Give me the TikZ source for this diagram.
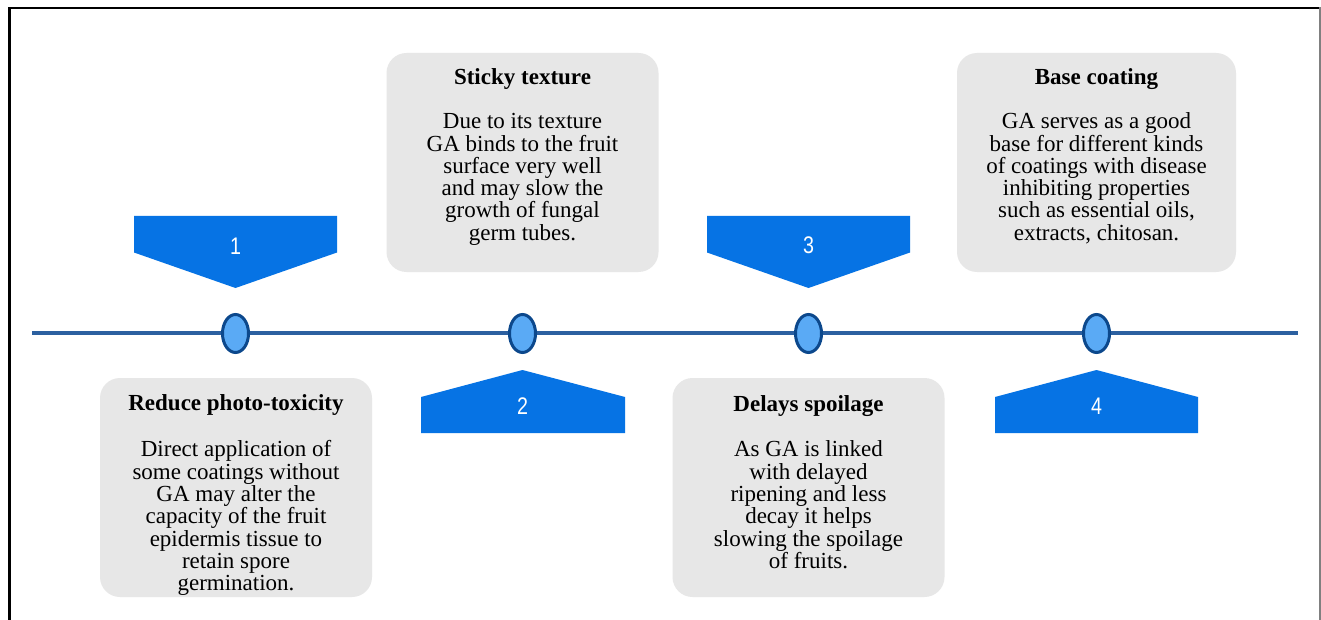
\documentclass[tikz,border=0pt]{standalone}
\usepackage{fontspec}
\setmainfont{Liberation Serif}
\newfontfamily\numfont{Liberation Sans}
\usetikzlibrary{calc,shapes.geometric}
\definecolor{lineblue}{RGB}{44,96,160}
\definecolor{dotfill}{RGB}{90,170,245}
\definecolor{dotedge}{RGB}{12,72,140}
\definecolor{tagblue}{RGB}{6,115,228}
\definecolor{boxgray}{RGB}{231,231,231}
\begin{document}
\begin{tikzpicture}[x=1pt,y=-1pt,
  gbox/.style={fill=boxgray,rounded corners=20pt,inner sep=0pt,minimum height=219pt,minimum width=#1},
  ttl/.style={font=\bfseries\fontsize{23}{22.3}\selectfont,inner sep=0pt,anchor=base},
  bodytxt/.style={font=\fontsize{23}{22.3}\selectfont,align=center,inner sep=0pt,anchor=base},
  tline/.style={draw=lineblue,line width=3.8pt},
  dot/.style={ellipse,draw=dotedge,fill=dotfill,line width=3pt,minimum width=26pt,minimum height=38pt,inner sep=0pt},
  tag/.style={fill=tagblue},
  num/.style={font=\numfont\fontsize{24}{24}\selectfont,text=white,inner sep=0pt,xscale=0.82}]
\useasboundingbox (0,0) rectangle (1321,620);
\fill[white] (0,0) rectangle (1321,620);
% frame
\draw[line width=2.5pt] (9.5,620) -- (9.5,7.8) -- (1319,7.8);
\draw[gray,line width=1.5pt] (1320,7) -- (1320,620);
% boxes
\node[gbox=272pt] (b1) at (236,487.5) {};
\node[gbox=272pt] (b2) at (522.5,162.5) {};
\node[gbox=272pt] (b3) at (808.5,487.5) {};
\node[gbox=279pt] (b4) at (1096.5,162.5) {};
% titles
\node[ttl] (t1) at ($(b1.north)+(0,33)$) {Reduce photo-toxicity};
\node[ttl] (t2) at ($(b2.north)+(0,32)$) {Sticky texture};
\node[ttl] (t3) at ($(b3.north)+(0,34)$) {Delays spoilage};
\node[ttl] (t4) at ($(b4.north)+(0,32)$) {Base coating};
% bodies (anchor = baseline of the last line)
\node[bodytxt] (d1) at ($(t1.base)+(0,179.8)$) {Direct application of\\some coatings without\\GA may alter the\\capacity of the fruit\\epidermis tissue to\\retain spore\\germination.};
\node[bodytxt] (d2) at ($(t2.base)+(0,155.5)$) {Due to its texture\\GA binds to the fruit\\surface very well\\and may slow the\\growth of fungal\\germ tubes.};
\node[bodytxt] (d3) at ($(t3.base)+(0,156.5)$) {As GA is linked\\with delayed\\ripening and less\\decay it helps\\slowing the spoilage\\of fruits.};
\node[bodytxt] (d4) at ($(t4.base)+(0,155.5)$) {GA serves as a good\\base for different kinds\\of coatings with disease\\inhibiting properties\\such as essential oils,\\extracts, chitosan.};
% tags
\fill[tag] (134,216) -- (337,216) -- (337,252.5) -- (235.5,288) -- (134,252.5) -- cycle;
\fill[tag] (707,216) -- (910,216) -- (910,252.5) -- (808.5,288) -- (707,252.5) -- cycle;
\fill[tag] (421,433) -- (625,433) -- (625,397) -- (522.5,370) -- (421,397) -- cycle;
\fill[tag] (995,433) -- (1198,433) -- (1198,397) -- (1096.5,370) -- (995,397) -- cycle;
\node[num] (n1) at (235.5,246) {1};
\node[num] (n2) at (522.5,406) {2};
\node[num] (n3) at (808.5,245) {3};
\node[num] (n4) at (1096.5,406) {4};
% timeline
\coordinate (tl) at (32,333);
\coordinate (tr) at (1298,333);
\draw[tline] (tl) -- (tr);
\node[dot] (c1) at (235.5,333.5) {};
\node[dot] (c2) at (522.5,333.5) {};
\node[dot] (c3) at (808.5,333.5) {};
\node[dot] (c4) at (1096.5,333.5) {};
\end{tikzpicture}
\end{document}
